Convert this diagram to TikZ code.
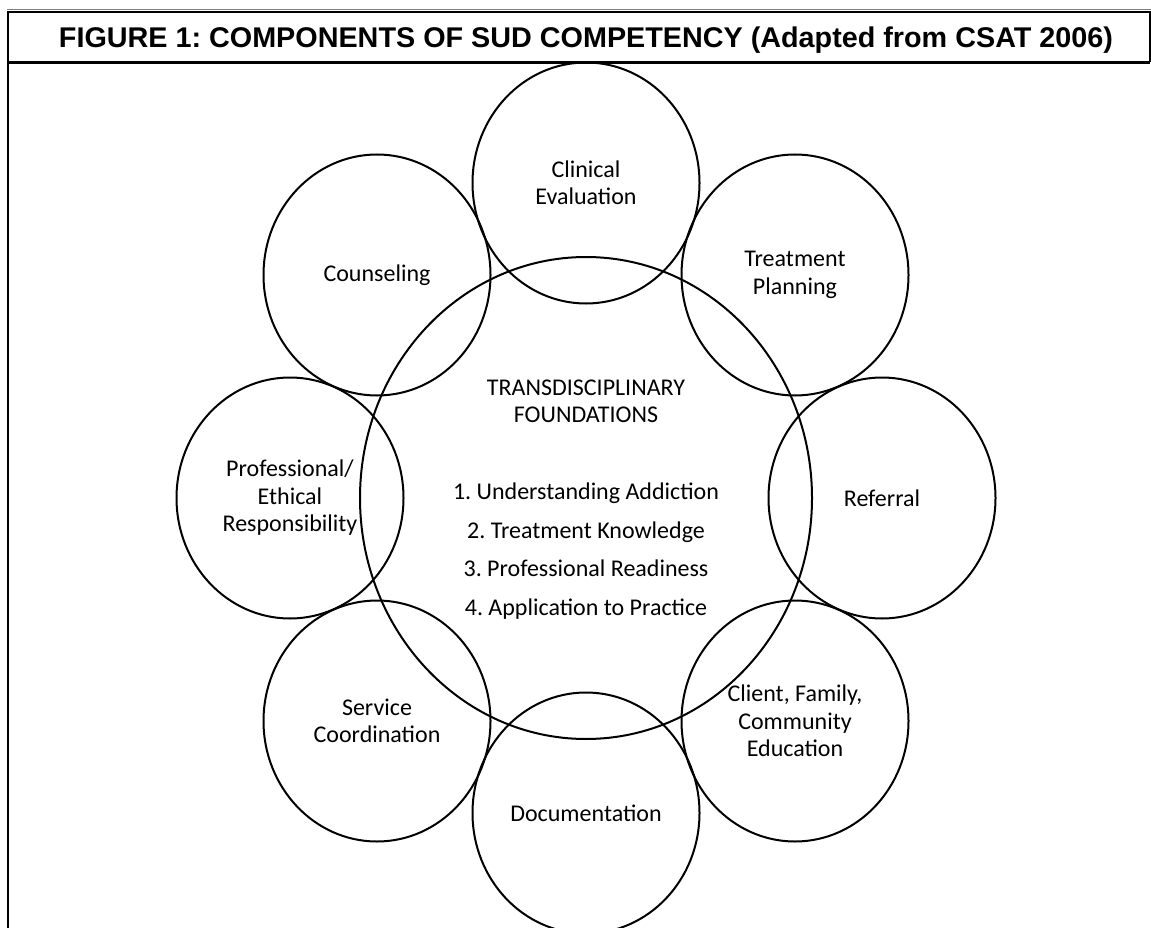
\documentclass[tikz,border=0pt]{standalone}
\usepackage{fontspec}
\setmainfont{Carlito}
\newfontfamily\titlefont{Liberation Sans}
\usetikzlibrary{shapes.geometric}
\frenchspacing
\begin{document}
\begin{tikzpicture}[x=1pt,y=-1pt,
  frameline/.style={line width=2pt, draw=black},
  comp/.style={ellipse, draw, line width=2pt, minimum width=227pt, minimum height=241pt,
    inner sep=0pt, align=center, font=\fontsize{24}{27.5}\selectfont},
  hub/.style={ellipse, draw, line width=2pt, minimum width=452pt, minimum height=482pt, inner sep=0pt},
  lbl/.style={align=center, inner sep=0pt}]
\useasboundingbox (0,0) rectangle (1151,928);
% frame
\coordinate (fbl) at (8,928);
\coordinate (ftl) at (8,12);
\coordinate (ftr) at (1150,12);
\coordinate (fsr) at (1150,62.5);
\coordinate (fsl) at (8,62.5);
\coordinate (gl) at (7,9.5);
\coordinate (gr) at (1151,9.5);
\draw[gray, line width=1.8pt] (gl) -- (gr);
\draw[frameline] (fbl) -- (ftl) -- (ftr) -- (fsr);
\draw[frameline, line width=2.5pt] (fsl) -- (fsr);
% title
\node[anchor=base, inner sep=0pt] (title) at (586,48)
  {\resizebox{1054pt}{\height}{\titlefont\bfseries\fontsize{28.5}{30}\selectfont FIGURE 1: COMPONENTS OF SUD COMPETENCY (Adapted from CSAT 2006)}};
% central circle
\node[hub] (hubc) at (586,498) {};
\node[lbl, font=\fontsize{24}{27}\selectfont] (found) at (586,401.5) {TRANSDISCIPLINARY\\FOUNDATIONS};
\node[lbl, font=\fontsize{24}{38.5}\selectfont] (list) at (586,551)
  {1. Understanding Addiction\\2. Treatment Knowledge\\3. Professional Readiness\\4. Application to Practice};
% components
\node[comp] (clin) at (586,183) {Clinical\\Evaluation};
\node[comp] (treat) at (795,275) {Treatment\\Planning};
\node[comp] (refer) at (882,498) {Referral};
\node[comp] (client) at (795,721) {Client, Family,\\Community\\Education};
\node[comp] (doc) at (586,813) {Documentation};
\node[comp] (serv) at (377,721) {Service\\Coordination};
\node[comp] (prof) at (290,498) {Professional/\\Ethical\\Responsibility};
\node[comp] (coun) at (377,275) {Counseling};
\end{tikzpicture}
\end{document}
